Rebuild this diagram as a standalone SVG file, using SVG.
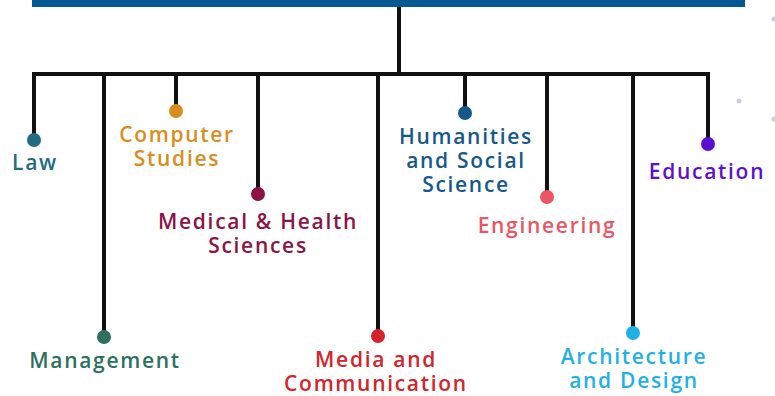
<svg xmlns="http://www.w3.org/2000/svg" width="775" height="396" viewBox="0 0 775 396">
<style>
.ln{stroke:#111;stroke-width:4;fill:none;stroke-linecap:butt}
.t{font-family:"Open Sans","Liberation Sans",sans-serif;font-weight:600;font-size:21px;letter-spacing:1.7px;text-anchor:middle}
</style>
<rect x="0" y="0" width="775" height="396" fill="#fff"/>
<rect id="topbar" x="32" y="0" width="713" height="7" fill="#055891"/>
<g id="connectors">
<path class="ln" d="M399 7V74M32 74H710"/>
<path class="ln" d="M34 72V140M104 74V337M176 74V111M258 74V194M378 74V336M465 74V113M547 74V197M633 74V333M708 72V144"/>
</g>
<g id="law"><circle cx="34" cy="140" r="7" fill="#236b80"/><text class="t" x="35" y="170" fill="#236b80">Law</text></g>
<g id="management"><circle cx="104" cy="337" r="7" fill="#2e7060"/><text class="t" x="105" y="368" fill="#2e7060">Management</text></g>
<g id="computer"><circle cx="176" cy="111" r="7" fill="#d98d1e"/><text class="t" x="177" y="142" fill="#d98d1e">Computer<tspan x="177" y="166">Studies</tspan></text></g>
<g id="medical"><circle cx="258" cy="194" r="7" fill="#8b1345"/><text class="t" x="258" y="229" fill="#8b1345">Medical &amp; Health<tspan x="258" y="253">Sciences</tspan></text></g>
<g id="media"><circle cx="378" cy="336" r="7" fill="#d6222a"/><text class="t" x="376" y="367" fill="#d6222a">Media and<tspan x="376" y="391">Communication</tspan></text></g>
<g id="humanities"><circle cx="465" cy="113" r="7" fill="#17588b"/><text class="t" x="466" y="144" fill="#17588b">Humanities<tspan x="466" y="168">and Social</tspan><tspan x="466" y="192">Science</tspan></text></g>
<g id="engineering"><circle cx="547" cy="197" r="7" fill="#ec5565"/><text class="t" x="547" y="233" fill="#ec5565">Engineering</text></g>
<g id="architecture"><circle cx="633" cy="333" r="7" fill="#1fb0e4"/><text class="t" x="634" y="364" fill="#1fb0e4">Architecture<tspan x="634" y="388">and Design</tspan></text></g>
<g id="education"><circle cx="708" cy="144" r="7" fill="#5d0fcf"/><text class="t" x="707" y="179" fill="#5d0fcf">Education</text></g>
<g id="specks" fill="#c9cfdc"><circle cx="739" cy="101" r="2.5"/><circle cx="774" cy="19" r="2.5"/><circle cx="774" cy="119" r="2.5"/></g>
</svg>
